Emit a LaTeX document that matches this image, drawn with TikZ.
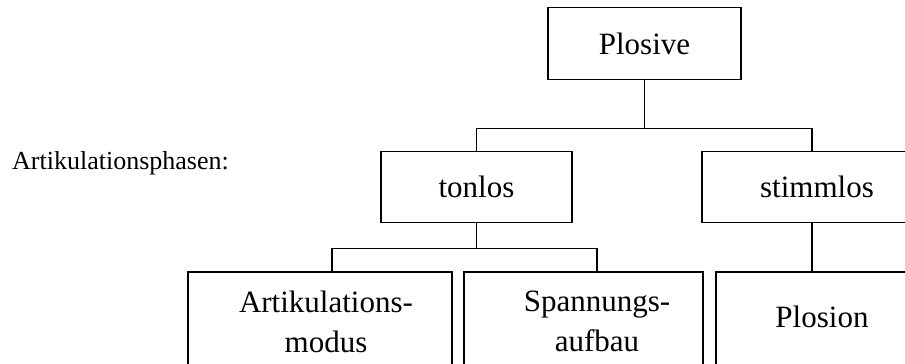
\documentclass[tikz,border=0pt]{standalone}
\usepackage{fontspec}
\setmainfont{Liberation Serif}
\begin{document}
\begin{tikzpicture}[x=1pt,y=-1pt]
		% Stile
		\tikzstyle{verbindung}=[-,line width=1.8pt]
		\tikzstyle{kasten}=[draw,line width=1.8pt,inner sep=0pt,font=\fontsize{31}{40}\selectfont]
		\tikzstyle{beschriftung}=[inner sep=0pt,align=center,font=\fontsize{31}{40}\selectfont]
		\tikzstyle{kommentar}=[inner sep=0pt,font=\fontsize{26}{30}\selectfont]
		% Abmessungen
		\def\EbeneA{43.5}
		\def\EbeneB{187}
		\def\EbeneC{336}
		\def\GabelA{48}
		\def\GabelB{25}
		% Rahmen
		\path[use as bounding box] (0,0) rectangle (905,364);
		\clip (0,0) rectangle (905,364);
		% Knoten
		\node[kommentar, anchor=base west] (phasen) at (12,169) {Artikulationsphasen:};
		\node[kasten, minimum width=193, minimum height=72] (plosive) at (644.5,\EbeneA) {Plosive};
		%
		\node[kasten, minimum width=191, minimum height=71] (tonlos) at (476.5,\EbeneB) {tonlos};
		\node[kasten, minimum width=230, minimum height=71] (stimmlos) at (817,\EbeneB) {stimmlos};
		%
		\node[kasten, minimum width=264, minimum height=128] (artikKasten) at (320,\EbeneC) {};
		\node[kasten, minimum width=239, minimum height=128] (spannKasten) at (583.5,\EbeneC) {};
		\node[kasten, minimum width=212, minimum height=128] (plosionKasten) at (822,\EbeneC) {};
		\node[beschriftung] (artik) at (326,321.5) {Artikulations-\\modus};
		\node[beschriftung] (spannung) at (597,321) {Spannungs-\\aufbau};
		\node[beschriftung] (plosion) at (822,317) {Plosion};
		% Verbindungen
		\draw[verbindung] (plosive.south) -- ++(0,\GabelA) -| (tonlos.north);
		\draw[verbindung] (plosive.south) -- ++(0,\GabelA) -| ([xshift=-5pt]stimmlos.north);
		\draw[verbindung] (tonlos.south) -- ++(0,\GabelB) -| ([xshift=12pt]artikKasten.north);
		\draw[verbindung] (tonlos.south) -- ++(0,\GabelB) -| ([xshift=13.5pt]spannKasten.north);
		\draw[verbindung] ([xshift=-5pt]stimmlos.south) -- ([xshift=-5pt]stimmlos.south |- plosionKasten.north);
	\end{tikzpicture}
\end{document}
